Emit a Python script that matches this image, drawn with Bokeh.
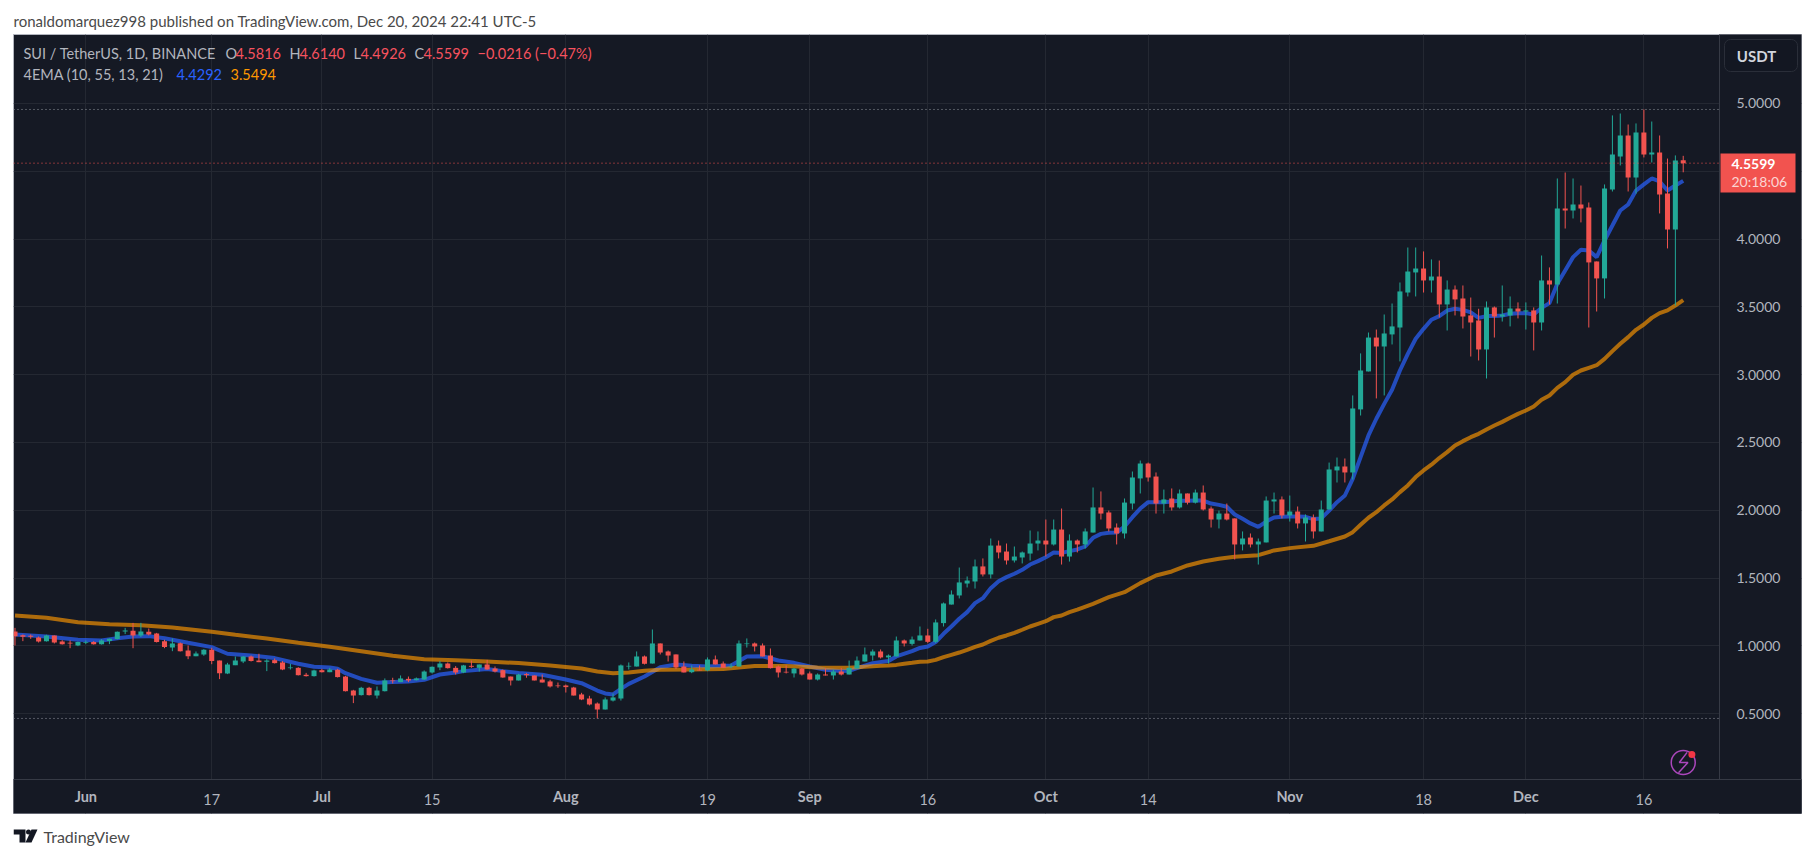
import pandas as pd
from bokeh.embed import file_html
from bokeh.resources import INLINE
from bokeh.plotting import figure
from bokeh.layouts import column
from bokeh.core.properties import value
from bokeh.models import BoxAnnotation, Label, FixedTicker, PrintfTickFormatter, ColumnDataSource

# ---------------------------------------------------------------- data
start_date = "2024-05-23"
opens = [1.106,1.079,1.074,1.062,1.035,1.077,1.032,1.023,1.003,1.023,1.028,1.013,1.037,1.050,1.106,1.111,1.077,1.104,1.092,1.035,
 0.988,1.020,0.966,0.924,0.937,0.971,0.892,0.797,0.858,0.885,0.922,0.892,0.883,0.895,0.878,0.836,0.838,0.787,0.777,0.821,
 0.806,0.824,0.774,0.671,0.637,0.691,0.634,0.666,0.745,0.733,0.757,0.747,0.752,0.804,0.841,0.870,0.838,0.804,0.853,0.838,
 0.863,0.833,0.821,0.774,0.745,0.792,0.782,0.752,0.738,0.708,0.708,0.693,0.642,0.612,0.575,0.531,0.597,0.612,0.848,0.848,
 0.922,0.870,1.018,0.959,0.937,0.848,0.806,0.824,0.819,0.900,0.870,0.848,0.848,1.013,1.018,1.003,0.929,0.848,0.809,0.797,
 0.833,0.797,0.752,0.789,0.782,0.811,0.789,0.833,0.885,0.929,0.959,0.915,0.922,1.040,1.015,1.040,1.077,1.030,1.168,1.305,
 1.372,1.460,1.475,1.586,1.527,1.740,1.696,1.630,1.652,1.681,1.755,1.777,1.748,1.858,1.659,1.777,1.748,1.836,2.021,1.984,
 1.873,1.829,2.050,2.235,2.345,2.249,2.050,2.087,2.021,2.124,2.057,2.131,2.013,1.932,1.976,1.940,1.748,1.799,1.748,1.763,
 2.065,2.080,1.962,1.991,1.903,1.947,1.844,2.006,2.294,2.323,2.279,2.744,3.024,3.274,3.208,3.297,3.348,3.606,3.754,3.783,
 3.695,3.724,3.518,3.628,3.562,3.437,3.400,3.186,3.496,3.429,3.437,3.488,3.466,3.474,3.385,3.695,3.665,4.226,4.211,4.255,
 4.233,3.835,3.710,4.366,4.609,4.764,4.454,4.786,4.624,4.639,4.336,4.071,4.5816]
highs = [1.133,1.084,1.084,1.069,1.082,1.077,1.042,1.040,1.032,1.040,1.035,1.050,1.055,1.106,1.133,1.170,1.170,1.128,1.096,1.045,
 1.055,1.025,1.003,0.959,0.976,0.986,0.892,0.875,0.922,0.924,0.929,0.942,0.902,0.907,0.888,0.868,0.843,0.801,0.824,0.831,
 0.838,0.831,0.779,0.676,0.698,0.698,0.701,0.760,0.765,0.782,0.774,0.767,0.819,0.848,0.888,0.878,0.851,0.860,0.892,0.863,
 0.897,0.848,0.826,0.774,0.794,0.799,0.782,0.789,0.750,0.730,0.715,0.698,0.654,0.632,0.583,0.620,0.649,0.863,0.878,0.959,
 0.929,1.121,1.018,0.966,0.937,0.885,0.856,0.856,0.915,0.929,0.885,0.870,1.040,1.055,1.025,1.018,0.981,0.856,0.856,0.838,
 0.838,0.811,0.797,0.833,0.826,0.838,0.892,0.922,0.988,0.974,0.974,0.937,1.069,1.047,1.069,1.143,1.126,1.195,1.320,1.409,
 1.578,1.512,1.637,1.645,1.792,1.777,1.755,1.733,1.696,1.851,1.844,1.932,1.932,2.013,1.822,1.785,1.866,2.168,2.139,1.998,
 1.903,2.087,2.286,2.367,2.352,2.279,2.153,2.161,2.153,2.124,2.153,2.183,2.028,1.998,2.050,1.940,1.844,1.829,1.792,2.102,
 2.131,2.102,2.109,2.028,1.969,1.969,2.072,2.352,2.389,2.382,2.847,3.157,3.311,3.333,3.444,3.525,3.680,3.938,3.938,3.909,
 3.850,3.842,3.695,3.658,3.658,3.569,3.486,3.540,3.503,3.658,3.577,3.533,3.533,3.496,3.879,3.791,4.447,4.491,4.447,4.395,
 4.270,3.835,4.403,4.912,4.926,4.845,4.853,4.956,4.867,4.764,4.594,4.617,4.6140]
lows = [1.003,1.035,1.052,1.025,1.032,1.018,1.010,0.983,0.998,1.013,1.010,1.010,1.013,1.047,1.087,0.983,1.065,1.077,1.025,0.983,
 0.961,0.959,0.902,0.924,0.927,0.865,0.755,0.792,0.858,0.873,0.885,0.880,0.814,0.870,0.821,0.826,0.782,0.774,0.774,0.804,
 0.806,0.767,0.664,0.578,0.634,0.634,0.612,0.664,0.723,0.733,0.733,0.745,0.750,0.797,0.821,0.833,0.789,0.799,0.838,0.811,
 0.824,0.804,0.765,0.708,0.745,0.765,0.745,0.730,0.693,0.691,0.656,0.634,0.600,0.561,0.465,0.531,0.590,0.597,0.826,0.848,
 0.863,0.870,0.937,0.885,0.829,0.804,0.799,0.819,0.814,0.863,0.838,0.836,0.848,0.988,0.959,0.922,0.833,0.767,0.797,0.767,
 0.782,0.752,0.745,0.782,0.752,0.782,0.789,0.833,0.885,0.892,0.907,0.870,0.922,0.996,1.003,1.040,1.020,1.020,1.143,1.305,
 1.350,1.431,1.423,1.512,1.497,1.645,1.600,1.615,1.608,1.630,1.704,1.659,1.740,1.600,1.622,1.689,1.718,1.836,1.932,1.844,
 1.748,1.792,2.006,2.124,2.212,1.976,1.976,1.998,2.013,2.043,2.050,1.998,1.873,1.866,1.925,1.637,1.704,1.726,1.600,1.763,
 1.976,1.940,1.917,1.866,1.770,1.792,1.844,2.006,2.205,2.205,2.227,2.699,3.024,2.825,2.847,3.223,3.098,3.577,3.577,3.606,
 3.606,3.422,3.326,3.437,3.341,3.134,3.105,2.972,3.274,3.392,3.356,3.415,3.333,3.179,3.326,3.518,3.525,4.078,4.152,4.123,
 3.348,3.466,3.562,4.351,4.543,4.351,4.336,4.602,4.565,4.189,3.931,3.510,4.4926]
closes = [1.072,1.067,1.067,1.033,1.077,1.025,1.013,1.018,1.028,1.028,1.013,1.040,1.052,1.104,1.114,1.077,1.106,1.084,1.028,0.991,
 1.018,0.961,0.924,0.944,0.971,0.888,0.799,0.863,0.892,0.922,0.888,0.880,0.892,0.873,0.826,0.841,0.784,0.777,0.819,0.806,
 0.826,0.770,0.666,0.634,0.691,0.637,0.671,0.745,0.740,0.760,0.745,0.760,0.811,0.846,0.870,0.836,0.804,0.856,0.846,0.863,
 0.826,0.811,0.767,0.745,0.789,0.784,0.745,0.730,0.701,0.703,0.696,0.634,0.605,0.568,0.531,0.605,0.620,0.856,0.853,0.922,
 0.868,1.018,0.951,0.929,0.841,0.804,0.826,0.819,0.900,0.863,0.838,0.853,1.018,1.018,0.996,0.922,0.836,0.804,0.804,0.833,
 0.789,0.752,0.789,0.782,0.811,0.789,0.838,0.892,0.937,0.959,0.915,0.929,1.040,1.018,1.047,1.077,1.030,1.173,1.313,1.379,
 1.468,1.482,1.586,1.527,1.740,1.689,1.630,1.659,1.689,1.755,1.777,1.748,1.858,1.659,1.777,1.748,1.844,2.021,1.976,1.866,
 1.829,2.057,2.242,2.345,2.242,2.050,2.080,2.021,2.124,2.057,2.131,2.006,1.932,1.976,1.932,1.748,1.792,1.748,1.770,2.072,
 2.080,1.962,1.991,1.903,1.947,1.844,2.006,2.301,2.323,2.279,2.751,3.031,3.274,3.208,3.304,3.356,3.614,3.761,3.783,3.695,
 3.724,3.518,3.628,3.555,3.429,3.385,3.186,3.496,3.429,3.444,3.488,3.466,3.474,3.385,3.695,3.665,4.226,4.211,4.255,4.226,
 3.828,3.710,4.373,4.624,4.764,4.454,4.786,4.624,4.639,4.329,4.071,4.580,4.5599]

ema_fast_days = [0,4,8,11,13,15,17,19,22,25,27,30,33,36,38,40,41,42,44,46,48,50,52,54,56,57,60,62,64,67,70,72,74,75,76,77,78,80,82,84,86,88,90,91,92,93,95,97,99,101,103,105,106,107,109,111,112,114,115,
 116,117,118,119,120,121,122,123,124,125,126,127,128,129,130,131,132,133,134,135,136,137,138,139,140,141,142,143,144,145,146,147,148,149,150,151,152,153,154,155,156,157,158,159,160,161,162,163,164,165,166,167,168,
 169,170,171,172,173,174,175,176,177,178,179,180,181,182,183,184,185,186,187,188,189,190,191,192,193,194,195,196,197,198,199,200,201,202,203,204,205,206,207,208,209,210,211,212]
ema_fast = [1.084,1.069,1.045,1.040,1.057,1.069,1.072,1.057,1.023,0.991,0.942,0.929,0.910,0.868,0.846,0.841,0.831,0.799,0.757,0.728,0.733,0.738,0.750,0.789,0.804,0.814,0.829,0.814,0.801,0.787,0.752,0.725,0.671,0.649,0.642,0.683,0.720,0.774,0.843,0.863,0.853,0.848,0.853,0.856,0.888,0.922,0.924,0.892,0.875,0.848,0.824,0.814,0.816,0.836,0.873,0.888,0.922,0.961,0.985,
 0.996,1.028,1.089,1.143,1.200,1.249,1.315,1.352,1.426,1.477,1.507,1.532,1.561,1.600,1.625,1.654,1.689,1.686,1.699,1.711,1.733,1.797,1.826,1.834,1.836,1.880,1.949,2.013,2.060,2.060,2.060,2.065,2.070,2.070,2.072,2.072,2.050,2.040,2.026,1.969,1.937,1.903,1.878,1.917,1.947,1.952,1.954,1.954,1.952,1.935,1.940,1.998,2.060,
 2.109,2.232,2.392,2.552,2.675,2.785,2.889,3.031,3.154,3.265,3.338,3.405,3.432,3.473,3.486,3.478,3.459,3.419,3.432,3.432,3.437,3.449,3.454,3.454,3.444,3.493,3.528,3.670,3.769,3.867,3.921,3.916,3.867,3.990,4.100,4.211,4.255,4.358,4.403,4.447,4.425,4.358,4.395,4.4292]

ema_slow_days = [0,4,8,12,16,20,25,28,32,36,40,44,48,52,56,60,64,68,72,74,76,78,80,82,86,90,94,98,102,106,
 110,111,112,113,114,115,116,117,118,119,120,121,122,123,124,125,126,127,128,129,130,131,132,133,134,135,137,139,141,143,145,147,149,151,153,155,158,160,162,165,167,
 169,170,171,172,173,174,175,176,177,178,179,180,181,182,183,184,185,186,187,188,189,190,191,192,193,194,195,196,197,198,199,200,201,202,203,204,205,206,207,208,209,210,211,212]
ema_slow = [1.224,1.207,1.175,1.160,1.153,1.136,1.104,1.082,1.055,1.023,0.993,0.961,0.927,0.902,0.895,0.885,0.873,0.856,0.833,0.811,0.799,0.804,0.816,0.824,0.826,0.829,0.851,0.851,0.841,0.838,
 0.853,0.856,0.860,0.868,0.875,0.883,0.885,0.897,0.917,0.934,0.951,0.971,0.993,1.010,1.037,1.060,1.077,1.096,1.119,1.143,1.163,1.182,1.212,1.224,1.249,1.268,1.310,1.359,1.396,1.463,1.519,1.549,1.593,1.622,1.642,1.657,1.669,1.704,1.721,1.738,1.772,
 1.807,1.839,1.893,1.945,1.986,2.036,2.080,2.134,2.183,2.245,2.294,2.336,2.385,2.429,2.478,2.510,2.539,2.564,2.596,2.625,2.652,2.682,2.711,2.736,2.766,2.815,2.847,2.903,2.945,3.000,3.031,3.051,3.070,3.117,3.174,3.228,3.277,3.331,3.370,3.419,3.454,3.474,3.510,3.5494]

price_ticks = [0.5,1.0,1.5,2.0,2.5,3.0,3.5,4.0,4.5,5.0]
date_ticks = ["2024-06-01","2024-06-17","2024-07-01","2024-07-15","2024-08-01","2024-08-19","2024-09-01",
              "2024-09-16","2024-10-01","2024-10-14","2024-11-01","2024-11-18","2024-12-01","2024-12-16"]
date_labels = ["Jun","17","Jul","15","Aug","19","Sep","16","Oct","14","Nov","18","Dec","16"]
hi_line, lo_line, last_close = 4.956, 0.465, 4.5599

# ---------------------------------------------------------------- style
BG = "#151924"; GRID = "#242832"; SEP = "#363a45"; TXT = "#b2b5be"
UP = "#22a897"; DOWN = "#f2534f"
FONT = "Lato"
PANE_RIGHT_DAY = 216.6
Y_OFF = 33   # the chart figure starts 33px below the top of the page

start = pd.Timestamp(start_date)
day_ticks = [(pd.Timestamp(d) - start).days for d in date_ticks]
days = list(range(len(opens)))

# The plot frame covers the whole dark card, so that the price tag and buttons can sit over the axis area.
p = figure(width=1814, height=781, output_backend="svg", toolbar_location=None,
           x_range=(-0.19, 227.03), y_range=(-0.2360, 5.5088), y_axis_location="right",
           min_border_left=13, min_border_right=13, min_border_top=1, min_border_bottom=1,
           background_fill_color=BG, border_fill_color="white",
           outline_line_color="#b2b5be", outline_line_width=1)

p.xgrid.ticker = FixedTicker(ticks=day_ticks)
p.ygrid.ticker = FixedTicker(ticks=price_ticks)
p.xgrid.grid_line_color = GRID
p.ygrid.grid_line_color = GRID

p.yaxis.ticker = FixedTicker(ticks=price_ticks)
p.yaxis.formatter = PrintfTickFormatter(format="%.4f")
p.xaxis.ticker = FixedTicker(ticks=day_ticks)
p.xaxis.major_label_overrides = {d: ("" if not l.isdigit() else l) for d, l in zip(day_ticks, date_labels)}
for ax in (p.xaxis[0], p.yaxis[0]):
    ax.major_tick_line_color = None
    ax.minor_tick_line_color = None
    ax.axis_line_color = None
    ax.major_label_text_color = TXT
    ax.major_label_text_font = FONT
p.yaxis.major_label_text_font_size = "14px"
p.xaxis.major_label_text_font_size = "14.5px"
p.yaxis.major_label_standoff = -71
p.xaxis.major_label_standoff = -26

def cy(Y): return Y - Y_OFF

def box(l, t, r, b, fill=None, line=None, level="annotation", radius=0):
    p.add_layout(BoxAnnotation(left=l, right=r, top=cy(t), bottom=cy(b),
                      left_units="canvas", right_units="canvas", top_units="canvas", bottom_units="canvas",
                      fill_color=fill or BG, fill_alpha=1 if fill else 0,
                      line_color=line, line_alpha=1 if line else 0, level=level, border_radius=radius,
                      editable=False))

def label(X, Y, text, color=TXT, size="13px", style="normal", align="left"):
    p.add_layout(Label(x=X, y=cy(Y), x_units="canvas", y_units="canvas", text=text, text_color=color,
                       text_font=FONT, text_font_size=size, text_font_style=style,
                       text_align=align, text_baseline="middle"))

# panels of the axes: they hide the grid and draw the separators (outer edges fall outside the frame)
box(1719, 20, 1830, 830, fill=BG, line=SEP, level="underlay")
box(0, 779, 1830, 830, fill=BG, line=SEP, level="underlay")

# EMAs below candles
p.line(ema_fast_days, ema_fast, line_color="#2962ff", line_alpha=0.7, line_width=4)
p.line(ema_slow_days, ema_slow, line_color="#ff9800", line_alpha=0.65, line_width=4)

colors = [UP if c >= o else DOWN for o, c in zip(opens, closes)]
src = ColumnDataSource(dict(x=days, o=opens, h=highs, l=lows, c=closes, color=colors))
p.segment("x", "h", "x", "l", source=src, line_color="color", line_width=1)
p.vbar("x", 0.64, "o", "c", source=src, fill_color="color", line_color=None)

# dotted levels, which stop at the price axis
for lvl, col in [(hi_line, "#9598a1"), (lo_line, "#9598a1"), (last_close, DOWN)]:
    p.segment([-0.19], [lvl], [PANE_RIGHT_DAY], [lvl], line_color=col, line_dash="1 3", line_width=1)

# month labels (semi-bold in the axis)
for d, l in zip(day_ticks, date_labels):
    if not l.isdigit():
        p.add_layout(Label(x=d, x_units="data", y=cy(796), y_units="canvas", text=l, text_color=TXT,
                           text_font=FONT, text_font_size="14.5px", text_font_style="bold",
                           text_align="center", text_baseline="middle"))

# legend
LEG = "14.5px"
label(23, 53, "SUI / TetherUS, 1D, BINANCE", size=LEG)
for X, k, VX, V in [(225, "O", 235, "4.5816"), (289, "H", 299, "4.6140"), (353, "L", 360, "4.4926"), (414, "C", 423, "4.5599")]:
    label(X, 53, k, size=LEG)
    label(VX, 53, V, color="#f7525f", size=LEG)
label(477, 53, "\u22120.0216 (\u22120.47%)", color="#f7525f", size=LEG)
label(23, 74, "4EMA (10, 55, 13, 21)", size=LEG)
label(176, 74, "4.4292", color="#2962ff", size=LEG)
label(230, 74, "3.5494", color="#ff9800", size=LEG)

# currency button
box(1724, 39, 1797, 71, fill="#131722", line="#2a2e39", radius=6)
label(1756, 55, "USDT", color="#d1d4dc", size="15px", style="bold", align="center")

# last price tag
box(1720, 153, 1795, 192, fill=DOWN)
label(1731, 163, "4.5599", color="#ffffff", size="14px", style="bold")
label(1731, 181, "20:18:06", color="#fbd5d3", size="14px")

# lightning badge
p.scatter([212.0], [0.14], size=24, marker="circle", fill_alpha=0, line_color="#ab47bc", line_width=1.5)
p.line([212.5, 211.5, 212.6, 211.4], [0.215, 0.14, 0.14, 0.065], line_color="#ab47bc", line_width=1.5)
p.scatter([213.1], [0.2], size=7, marker="circle", fill_color="#f23645", line_color=None)

def strip(h, y0):
    # same side borders as the chart, because a column lines up the frames of its figures
    f = figure(width=1814, height=h, output_backend="svg", toolbar_location=None, x_range=(13, 1801),
               y_range=(y0 + h, y0), x_axis_location=None, y_axis_location=None, min_border_left=13,
               min_border_right=13, min_border_top=0, min_border_bottom=0,
               background_fill_color="white", border_fill_color="white", outline_line_color=None)
    f.grid.visible = False
    return f

header = strip(33, 0)
header.text([13], [20], text=["ronaldomarquez998 published on TradingView.com, Dec 20, 2024 22:41 UTC-5"],
            text_color="#4a4a4a", text_font=value(FONT), text_font_size="15px", text_baseline="middle")

footer = strip(40, 814)
footer.patches([[13, 25, 25, 19, 19, 13], [31, 37, 31, 25]],
               [[829, 829, 842, 842, 834, 834], [829, 829, 842, 842]], fill_color="#131722", line_color=None)
footer.scatter([28], [831.5], size=5, marker="circle", fill_color="#131722", line_color=None)
footer.text([43], [836], text=["TradingView"], text_color="#4a4a4a", text_font=value(FONT),
            text_font_size="16px", text_baseline="middle")

layout = column(header, p, footer, spacing=0)
open("out.html", "w").write(file_html(layout, INLINE))
